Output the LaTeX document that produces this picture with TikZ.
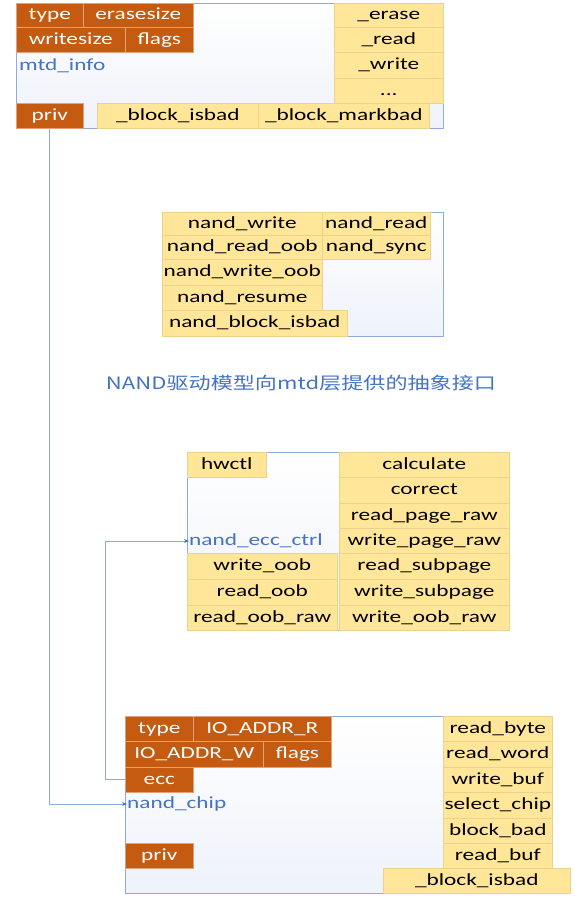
\documentclass[tikz,border=0pt]{standalone}
\usepackage{fontspec}
\setmainfont{Carlito}[FakeStretch=1.37]
\newfontfamily\cjk{Noto Sans CJK SC}[FakeStretch=1.3]
\usetikzlibrary{arrows.meta, positioning}

\definecolor{orgfill}{HTML}{C55A11}
\definecolor{orgline}{HTML}{E0A27E}
\definecolor{yelfill}{HTML}{FFE699}
\definecolor{yelline}{HTML}{EBD38E}
\definecolor{frameblue}{HTML}{8FAADC}
\definecolor{lblue}{HTML}{4472C4}
\definecolor{shadeblue}{HTML}{EEF2FA}

\begin{document}
\begin{tikzpicture}[
    x=1pt, y=-1pt,
    every node/.style={font=\fontsize{17}{20}\selectfont},
    frame/.style={rectangle, draw=frameblue, line width=1pt, top color=white, bottom color=shadeblue, anchor=north west, inner sep=0},
    org/.style={rectangle, draw=orgline, line width=0.6pt, fill=orgfill, text=white, anchor=north west, inner sep=0, text height=11.5, text depth=3},
    fn/.style={rectangle, draw=yelline, line width=0.6pt, fill=yelfill, text=black, anchor=north west, inner sep=0, text height=11.5, text depth=3},
    lbl/.style={anchor=west, inner sep=0, text=lblue, text height=11.5, text depth=3},
    arr/.style={-{Stealth[length=5pt, width=4pt, color=lblue]}, draw=frameblue, line width=0.9pt},
]
    \useasboundingbox (0,0) rectangle (574,899);

    % Block 1: mtd_info
    \node[frame, minimum width=427, minimum height=125] (mtdbox) at (16,3) {};
    \node[org, minimum width=67,  minimum height=24] (mtype)  at (16,3)   {type};
    \node[org, minimum width=110, minimum height=24] (merase) at (83,3)   {erasesize};
    \node[org, minimum width=109, minimum height=25] (mwsize) at (16,27)  {writesize};
    \node[org, minimum width=68,  minimum height=25] (mflags) at (125,27) {flags};
    \node[lbl] (mtdlbl) at (19,66) {mtd\_info};
    \node[fn, minimum width=109, minimum height=24] (merasefn) at (334,3)  {\_erase};
    \node[fn, minimum width=109, minimum height=25] (mreadfn)  at (334,27) {\_read};
    \node[fn, minimum width=109, minimum height=26] (mwritefn) at (334,52) {\_write};
    \node[fn, minimum width=109, minimum height=25] (mdots)    at (334,78) {...};
    \node[org, minimum width=67,  minimum height=25] (mpriv)    at (16,103)  {priv};
    \node[fn,  minimum width=161, minimum height=25] (misbad)   at (97,103)  {\_block\_isbad};
    \node[fn,  minimum width=171, minimum height=25] (mmarkbad) at (258,103) {\_block\_markbad};

    % Block 2: nand interface offered to mtd
    \node[frame, minimum width=281, minimum height=124] (nandbox) at (162,212) {};
    \node[fn, minimum width=160, minimum height=23] (nwrite)    at (162,212) {nand\_write};
    \node[fn, minimum width=108, minimum height=23] (nread)     at (322,212) {nand\_read};
    \node[fn, minimum width=160, minimum height=24] (nreadoob)  at (162,235) {nand\_read\_oob};
    \node[fn, minimum width=108, minimum height=24] (nsync)     at (322,235) {nand\_sync};
    \node[fn, minimum width=160, minimum height=26] (nwriteoob) at (162,259) {nand\_write\_oob};
    \node[fn, minimum width=160, minimum height=25] (nresume)   at (162,285) {nand\_resume};
    \node[fn, minimum width=185, minimum height=26] (nisbad)    at (162,310) {nand\_block\_isbad};

    % Caption
    \node[text=lblue, inner sep=0, font=\cjk\fontsize{17}{19}\selectfont] (caption) at (301,383) {NAND驱动模型向mtd层提供的抽象接口};

    % Block 3: nand_ecc_ctrl
    \node[frame, minimum width=152, minimum height=178] (eccbox) at (187,452) {};
    \node[fn, minimum width=79, minimum height=25] (ehwctl) at (187,452) {hwctl};
    \node[lbl] (ecclbl) at (189,541) {nand\_ecc\_ctrl};
    \node[fn, minimum width=150, minimum height=26] (ewoob)   at (187,553) {write\_oob};
    \node[fn, minimum width=150, minimum height=26] (eroob)   at (187,579) {read\_oob};
    \node[fn, minimum width=150, minimum height=25] (eroraw)  at (187,605) {read\_oob\_raw};
    \node[fn, minimum width=170, minimum height=25] (ecalc)   at (339,452) {calculate};
    \node[fn, minimum width=170, minimum height=26] (ecorr)   at (339,477) {correct};
    \node[fn, minimum width=170, minimum height=25] (erpraw)  at (339,503) {read\_page\_raw};
    \node[fn, minimum width=170, minimum height=25] (ewpraw)  at (339,528) {write\_page\_raw};
    \node[fn, minimum width=170, minimum height=26] (ersub)   at (339,553) {read\_subpage};
    \node[fn, minimum width=170, minimum height=26] (ewsub)   at (339,579) {write\_subpage};
    \node[fn, minimum width=170, minimum height=25] (eworaw)  at (339,605) {write\_oob\_raw};

    % Block 4: nand_chip
    \node[frame, minimum width=318, minimum height=177] (chipbox) at (125,716) {};
    \node[org, minimum width=68,  minimum height=25] (ctype)  at (125,716) {type};
    \node[org, minimum width=138, minimum height=25] (caddrr) at (193,716) {IO\_ADDR\_R};
    \node[org, minimum width=138, minimum height=26] (caddrw) at (125,741) {IO\_ADDR\_W};
    \node[org, minimum width=68,  minimum height=26] (cflags) at (263,741) {flags};
    \node[org, minimum width=68,  minimum height=25] (cecc)   at (125,767) {ecc};
    \node[lbl] (chiplbl) at (127,804) {nand\_chip};
    \node[org, minimum width=68,  minimum height=25] (cpriv)  at (125,843) {priv};
    \node[fn, minimum width=109, minimum height=25] (crbyte)  at (443,716) {read\_byte};
    \node[fn, minimum width=109, minimum height=26] (crword)  at (443,741) {read\_word};
    \node[fn, minimum width=109, minimum height=25] (cwbuf)   at (443,767) {write\_buf};
    \node[fn, minimum width=109, minimum height=26] (cselect) at (443,792) {select\_chip};
    \node[fn, minimum width=109, minimum height=25] (cbbad)   at (443,818) {block\_bad};
    \node[fn, minimum width=109, minimum height=25] (crbuf)   at (443,843) {read\_buf};
    \node[fn, minimum width=187, minimum height=25] (cisbad)  at (383,868) {\_block\_isbad};

    % Connectors
    \draw[arr] (mpriv.south) |- (chiplbl.west);
    \draw[arr] (cecc.west) -- ++(-20,0) |- (ecclbl.west);
\end{tikzpicture}
\end{document}
